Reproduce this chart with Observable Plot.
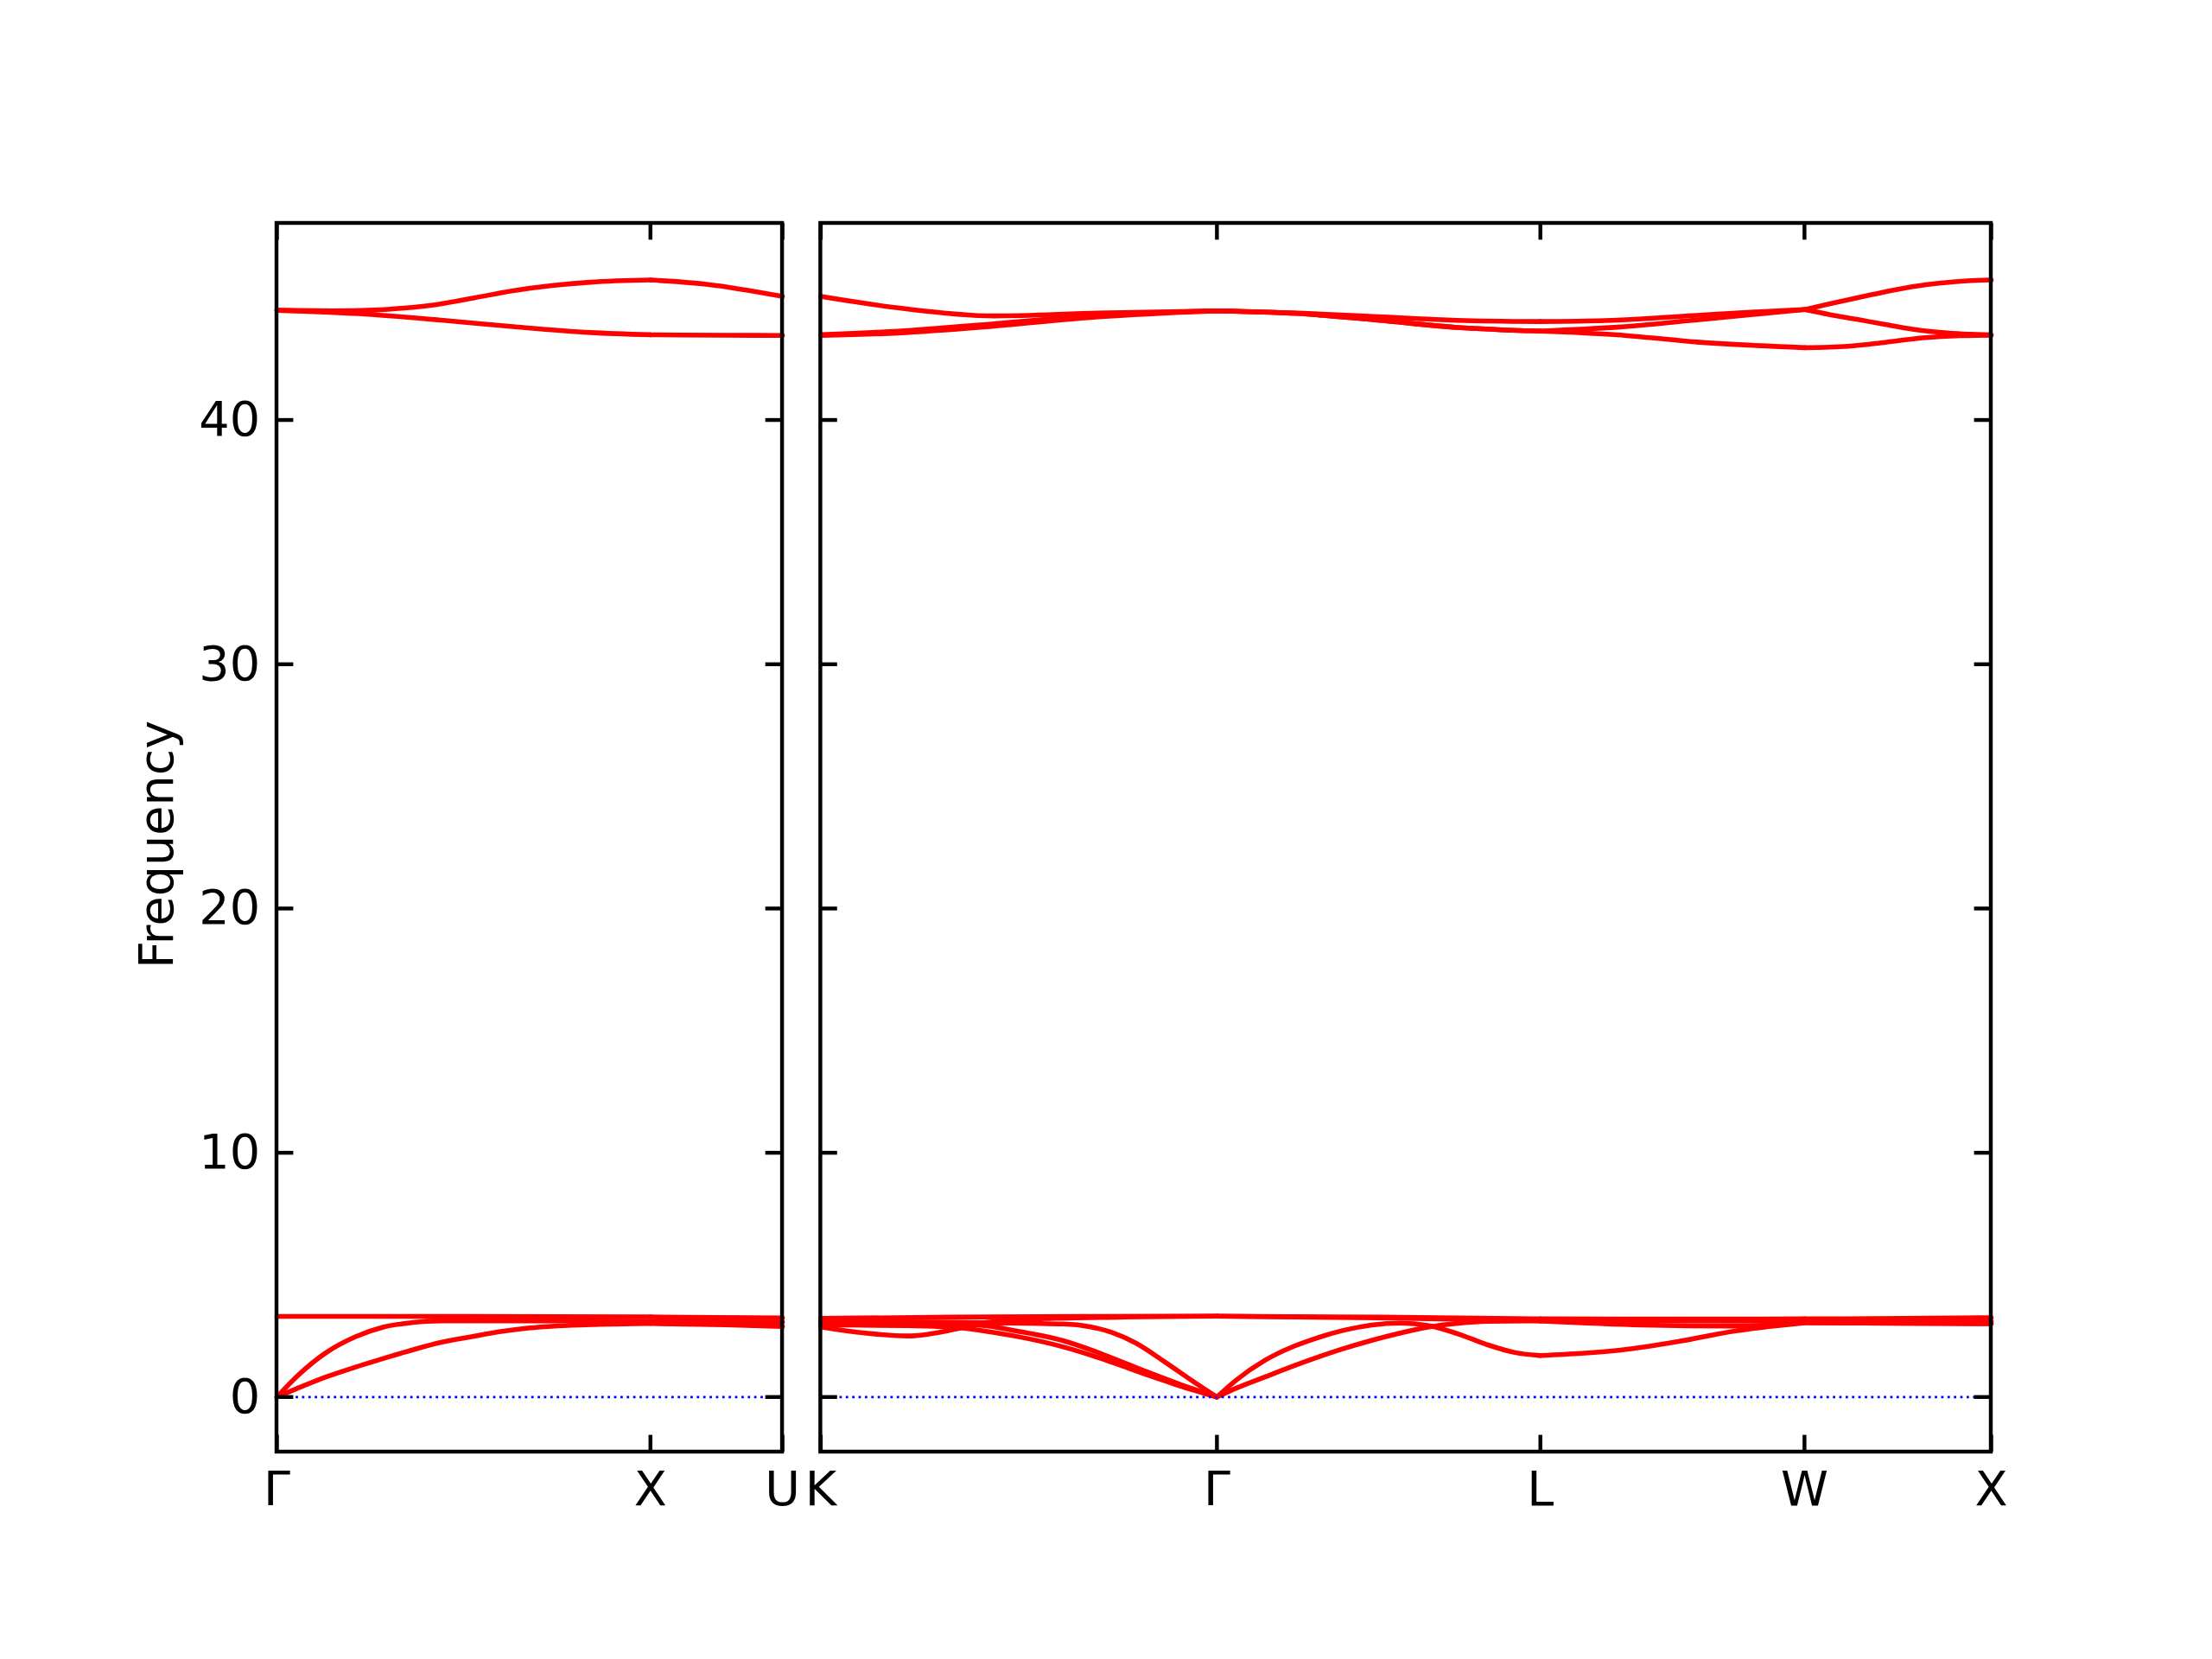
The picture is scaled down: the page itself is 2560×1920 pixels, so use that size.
<!DOCTYPE html>
<html>
<head>
<meta charset="utf-8">
<script src="https://cdn.jsdelivr.net/npm/d3@7"></script>
<script src="https://cdn.jsdelivr.net/npm/@observablehq/plot@0.6"></script>
<style>
  html, body { margin: 0; padding: 0; background: #ffffff; }
  #chart svg { display: block; }
</style>
</head>
<body>
<div id="chart"></div>
<script>
// ---------------- data ----------------
const yTicks = [0, 10, 20, 30, 40];
const yTickLabels = ["0", "10", "20", "30", "40"];
const yLabel = "Frequency";

// high-symmetry points (path distance within each panel)
const leftLabels = ["Γ", "X", "U"];
const leftLabelPos = [0, 1, 1.35355];
const rightLabels = ["K", "Γ", "L", "W", "X"];
const rightLabelPos = [0, 1.06066, 1.92669, 2.63380, 3.13380];

// left panel bands  [distance, frequency]
const gxuLowOpt = [[0,3.30],[0.5,3.30],[1,3.28],[1.35355,3.24]];
const gxuLA = [[0,0],[0.054,0.85],[0.131,1.81],[0.209,2.46],[0.286,2.87],[0.363,3.05],[0.44,3.12],[0.7,3.12],[1,3.10],[1.35355,3.07]];
const gxuTA = [[0,0],[0.054,0.35],[0.131,0.82],[0.209,1.22],[0.286,1.58],[0.363,1.93],[0.44,2.24],[0.518,2.46],[0.595,2.67],[0.672,2.82],[0.75,2.91],[0.85,2.97],[1,3.01],[1.2,2.96],[1.35355,2.89]];
const gxuHigh1 = [[0,44.49],[0.15,44.47],[0.26,44.50],[0.34,44.58],[0.424,44.72],[0.528,45.00],[0.632,45.29],[0.736,45.50],[0.839,45.64],[1,45.73],[1.149,45.56],[1.35355,45.06]];
const gxuHigh2 = [[0,44.49],[0.218,44.35],[0.424,44.11],[0.632,43.82],[0.839,43.58],[1,43.49],[1.2,43.47],[1.35355,43.46]];

// right panel bands  [distance, frequency]
const kLowOpt = [[0,3.22],[0.35,3.27],[0.7,3.30],[1.06066,3.31],[1.5,3.27],[1.92669,3.20],[2.3,3.19],[2.6338,3.20],[2.9,3.22],[3.1338,3.25]];
const kDipOpt = [[0,2.87],[0.118,2.62],[0.234,2.50],[0.349,2.74],[0.442,3.05],[0.6,3.21],[0.85,3.28],[1.06066,3.31],[1.5,3.24],[1.92669,3.12],[2.2,2.95],[2.45,2.90],[2.6338,3.05],[2.9,3.02],[3.1338,3.00]];
const kgAc1 = [[0,3.11],[0.234,3.08],[0.442,3.04],[0.65,2.99],[0.72,2.88],[0.78,2.64],[0.842,2.22],[0.92,1.45],[0.997,0.64],[1.06066,0]];
const kgAc2 = [[0,3.05],[0.349,3.00],[0.45,2.90],[0.518,2.72],[0.65,2.30],[0.75,1.78],[0.842,1.22],[0.957,0.55],[1.06066,0]];
const kgAc3 = [[0,2.95],[0.234,2.92],[0.349,2.86],[0.518,2.50],[0.65,2.05],[0.75,1.58],[0.842,1.08],[0.957,0.48],[1.06066,0]];
const gxAcP = [[1.06066,0],[1.112,0.69],[1.189,1.50],[1.267,2.08],[1.321,2.38],[1.397,2.72],[1.475,2.95],[1.552,3.03],[1.628,2.92],[1.707,2.58],[1.783,2.15],[1.859,1.82],[1.92669,1.70],[2.037,1.79],[2.146,1.93],[2.299,2.28],[2.454,2.72],[2.53,2.87],[2.6338,3.04],[2.9,3.02],[3.1338,3.01]];
const gxAcQ = [[1.06066,0],[1.112,0.36],[1.189,0.82],[1.267,1.28],[1.321,1.58],[1.397,1.97],[1.475,2.32],[1.552,2.62],[1.628,2.87],[1.707,3.02],[1.783,3.10],[1.92669,3.12],[2.3,3.12],[2.6338,3.10],[3.1338,3.10]];
const kHigh1 = [[0,45.06],[0.207,44.59],[0.464,44.26],[0.742,44.38],[1.06066,44.47],[1.277,44.38],[1.491,44.23],[1.704,44.08],[1.92669,44.03],[2.05,44.05],[2.2,44.14],[2.346,44.28],[2.5,44.42],[2.6338,44.52],[2.70,44.75],[2.774,45.00],[2.85,45.25],[2.923,45.46],[3.0,45.61],[3.07,45.70],[3.1338,45.73]];
const kHigh2 = [[0,43.49],[0.207,43.64],[0.464,43.94],[0.742,44.29],[1.06066,44.47],[1.277,44.36],[1.491,44.09],[1.704,43.79],[1.92669,43.64],[2.132,43.80],[2.346,44.10],[2.6338,44.52],[2.70,44.32],[2.774,44.12],[2.85,43.91],[2.923,43.72],[3.03,43.55],[3.1338,43.49]];
const kHigh3 = [[0,43.46],[0.207,43.56],[0.464,43.84],[0.742,44.22],[1.06066,44.47],[1.277,44.36],[1.491,44.09],[1.704,43.79],[1.92669,43.64],[2.132,43.49],[2.346,43.19],[2.6338,42.96],[2.75,43.02],[2.85,43.18],[2.95,43.36],[3.05,43.45],[3.1338,43.47]];

const leftBands = [gxuLowOpt, gxuLA, gxuTA, gxuHigh1, gxuHigh2];
const rightBands = [kLowOpt, kDipOpt, kgAc1, kgAc2, kgAc3, gxAcP, gxAcQ, kHigh1, kHigh2, kHigh3];

// ---------------- layout ----------------
const W = 2560, H = 1920;
const M = {left: 320, right: 256, top: 258, bottom: 240};
const panelGap = 0.1025;                       // gap between panels in path units
const leftLen = leftLabelPos[leftLabelPos.length - 1];
const rightLen = rightLabelPos[rightLabelPos.length - 1];
const rightOff = leftLen + panelGap;
const xMax = rightOff + rightLen;
const yDomain = [-2.253, 48.05];

const FS = 55.6;          // 10pt @ 400dpi
const frameW = 4.44;      // 0.8pt
const tickLen = 19.4;     // 3.5pt
const lineW = 5.56;       // 1pt

const pxPerX = (W - M.left - M.right) / xMax;
const pxPerY = (H - M.top - M.bottom) / (yDomain[1] - yDomain[0]);
const tx = tickLen / pxPerX, ty = tickLen / pxPerY;

function splitBand(band, bounds, offset, id) {
  const rows = [];
  for (let s = 0; s < bounds.length - 1; s++) {
    const a = bounds[s] - 1e-6, b = bounds[s + 1] + 1e-6;
    const pts = band.filter(([d]) => d >= a && d <= b);
    if (pts.length < 2) continue;
    pts.forEach(([d, f]) => rows.push({x: d + offset, y: f, key: id + "-" + s}));
  }
  return rows;
}

const bandRows = [
  ...leftBands.flatMap((b, i) => splitBand(b, leftLabelPos, 0, "L" + i)),
  ...rightBands.flatMap((b, i) => splitBand(b, rightLabelPos, rightOff, "R" + i))
];

const panels = [
  {x1: 0, x2: leftLen, pos: leftLabelPos, labels: leftLabels},
  {x1: rightOff, x2: xMax, pos: rightLabelPos.map(p => p + rightOff), labels: rightLabels}
];

const yTickRows = panels.flatMap(p => yTicks.flatMap(v => [
  {y: v, x1: p.x1, x2: p.x1 + tx},
  {y: v, x1: p.x2 - tx, x2: p.x2}
]));
const xTickRows = panels.flatMap(p => p.pos.flatMap(x => [
  {x, y1: yDomain[0], y2: yDomain[0] + ty},
  {x, y1: yDomain[1] - ty, y2: yDomain[1]}
]));
const xLabelRows = panels.flatMap(p => p.pos.map((x, i) => ({x, label: p.labels[i]})));

const chart = Plot.plot({
  width: W,
  height: H,
  marginLeft: M.left,
  marginRight: M.right,
  marginTop: M.top,
  marginBottom: M.bottom,
  style: {fontFamily: "DejaVu Sans", background: "#ffffff", color: "black"},
  x: {domain: [0, xMax], axis: null},
  y: {domain: yDomain, axis: null},
  marks: [
    Plot.line(bandRows, {x: "x", y: "y", z: "key", stroke: "#ff0000", strokeWidth: lineW, curve: "monotone-x", strokeLinecap: "round", strokeLinejoin: "round"}),
    Plot.ruleY(panels, {y: () => 0, x1: "x1", x2: "x2", stroke: "#0000ff", strokeWidth: 2.78, strokeDasharray: "2.78 4.59"}),
    Plot.rect(panels, {x1: "x1", x2: "x2", y1: () => yDomain[0], y2: () => yDomain[1], fill: "none", stroke: "black", strokeWidth: frameW}),
    Plot.ruleY(yTickRows, {y: "y", x1: "x1", x2: "x2", stroke: "black", strokeWidth: frameW}),
    Plot.ruleX(xTickRows, {x: "x", y1: "y1", y2: "y2", stroke: "black", strokeWidth: frameW}),
    Plot.text(yTicks, {x: () => panels[0].x1, y: d => d, text: (d, i) => yTickLabels[i], textAnchor: "end", dx: -19.4, fontSize: FS, fill: "black"}),
    Plot.text(xLabelRows, {x: "x", frameAnchor: "bottom", text: "label", lineAnchor: "top", dy: 22.5, fontSize: FS, fill: "black"}),
    Plot.text([yLabel], {frameAnchor: "left", text: d => d, rotate: -90, dx: -138, dy: 8, lineAnchor: "middle", textAnchor: "middle", fontSize: FS, fill: "black"})
  ]
});
document.getElementById("chart").appendChild(chart);
</script>
</body>
</html>
